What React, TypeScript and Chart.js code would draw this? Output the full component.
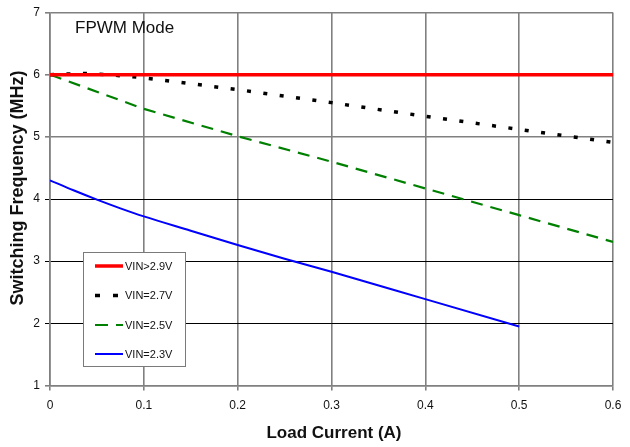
import React, { useEffect, useRef } from "react";
import { Chart, registerables } from "chart.js";

Chart.register(...registerables);

const FONT = "'Liberation Sans', Arial, Helvetica, sans-serif";

// Axis ranges / ticks
const xMin = 0;
const xMax = 0.6;
const xStep = 0.1;
const yMin = 1;
const yMax = 7;
const yStep = 1;

const chartNote = "FPWM Mode";
const xTitle = "Load Current (A)";
const yTitle = "Switching Frequency (MHz)";

const seriesNames = ["VIN>2.9V", "VIN=2.7V", "VIN=2.5V", "VIN=2.3V"];

// VIN > 2.9V
const x29 = [0, 0.6];
const y29 = [6.0, 6.0];
// VIN = 2.7V
const x27 = [0, 0.04, 0.07, 0.1, 0.2, 0.3, 0.4, 0.5, 0.6];
const y27 = [6.0, 6.02, 5.99, 5.95, 5.76, 5.55, 5.33, 5.12, 4.91];
// VIN = 2.5V
const x25 = [0, 0.1, 0.2, 0.3, 0.4, 0.5, 0.6];
const y25 = [6.0, 5.45, 5.01, 4.6, 4.17, 3.74, 3.31];
// VIN = 2.3V
const x23 = [0, 0.025, 0.05, 0.075, 0.1, 0.15, 0.2, 0.25, 0.3, 0.4, 0.5];
const y23 = [4.3, 4.14, 3.99, 3.85, 3.72, 3.49, 3.26, 3.04, 2.83, 2.39, 1.95];

const toPts = (xs: number[], ys: number[]) => xs.map((x, i) => ({ x, y: ys[i] }));

const legendPlugin = {
  id: "boxLegend",
  afterDatasetsDraw(chart: any) {
    const ctx = chart.ctx as CanvasRenderingContext2D;
    const bx = 83.5, by = 252.5, bw = 102, bh = 114;
    ctx.save();
    ctx.fillStyle = "#ffffff";
    ctx.fillRect(bx, by, bw, bh);
    ctx.strokeStyle = "#7a7a7a";
    ctx.lineWidth = 1;
    ctx.strokeRect(bx, by, bw, bh);
    const rowY = [266, 295.5, 325, 354];
    chart.data.datasets.forEach((ds: any, i: number) => {
      const y = rowY[i];
      ctx.beginPath();
      ctx.strokeStyle = ds.borderColor;
      ctx.lineWidth = ds.borderWidth;
      ctx.setLineDash(ds.legendDash || []);
      ctx.lineCap = "butt";
      ctx.moveTo(95, y);
      ctx.lineTo(123, y);
      ctx.stroke();
      ctx.setLineDash([]);
      ctx.fillStyle = "#111";
      ctx.font = `11px ${FONT}`;
      ctx.textAlign = "left";
      ctx.textBaseline = "middle";
      ctx.fillText(ds.label, 125, y + 0.5);
    });
    ctx.fillStyle = "#111";
    ctx.font = `17px ${FONT}`;
    ctx.textAlign = "left";
    ctx.textBaseline = "middle";
    ctx.fillText(chartNote, 75, 28);

    // axis titles
    ctx.font = `bold 17px ${FONT}`;
    ctx.textAlign = "center";
    ctx.textBaseline = "middle";
    ctx.fillText(xTitle, 334, 433.5);
    ctx.translate(18.5, 188);
    ctx.rotate(-Math.PI / 2);
    ctx.font = `bold 18px ${FONT}`;
    ctx.fillText(yTitle, 0, 0);
    ctx.restore();
  },
};

const gridColor = (c: any) => {
  const v = c.tick ? c.tick.value : 0;
  return v === 2 || v === 3 || v === 4 ? "#000000" : "#808080";
};
const gridWidth = (c: any) => {
  const v = c.tick ? c.tick.value : 0;
  return v === 2 || v === 3 || v === 4 ? 1 : 1.6;
};

export default function App() {
  const ref = useRef<HTMLCanvasElement>(null);
  useEffect(() => {
    if (!ref.current) return;
    const chart = new Chart(ref.current, {
      type: "line",
      data: {
        datasets: [
          {
            label: seriesNames[0],
            data: toPts(x29, y29),
            borderColor: "#ff0000",
            borderWidth: 3.5,
            pointRadius: 0,
            legendDash: [],
          } as any,
          {
            label: seriesNames[1],
            data: toPts(x27, y27),
            borderColor: "#000000",
            borderWidth: 3.5,
            borderDash: [4, 12.5],
            pointRadius: 0,
            legendDash: [5, 13],
          } as any,
          {
            label: seriesNames[2],
            data: toPts(x25, y25),
            borderColor: "#008000",
            borderWidth: 2.2,
            borderDash: [12, 8],
            pointRadius: 0,
            legendDash: [13, 8],
          } as any,
          {
            label: seriesNames[3],
            data: toPts(x23, y23),
            borderColor: "#0000ff",
            borderWidth: 2,
            cubicInterpolationMode: "monotone",
            pointRadius: 0,
            legendDash: [],
          } as any,
        ],
      },
      options: {
        responsive: false,
        animation: false,
        devicePixelRatio: 1,
        layout: { padding: { top: 12.5, right: 17, left: 0, bottom: 0 } },
        plugins: { legend: { display: false }, tooltip: { enabled: false } },
        scales: {
          x: {
            type: "linear",
            min: xMin,
            max: xMax,
            ticks: {
              stepSize: xStep,
              padding: 7.5,
              color: "#111",
              font: { family: FONT, size: 12 },
              callback: (v: any) => String(Number(Number(v).toFixed(1))),
              maxRotation: 0,
            },
            grid: { color: "#808080", lineWidth: 1.6, tickLength: 5 },
            border: { color: "#808080", width: 1.6 },
            title: { display: false },
            afterFit: (s: any) => {
              s.height = 61.5;
            },
          },
          y: {
            type: "linear",
            min: yMin,
            max: yMax,
            ticks: {
              stepSize: yStep,
              padding: 5,
              color: "#111",
              font: { family: FONT, size: 12 },
            },
            grid: { color: gridColor, lineWidth: gridWidth, tickLength: 5 },
            border: { color: "#808080", width: 1.6 },
            title: { display: false },
            afterFit: (s: any) => {
              s.width = 50;
            },
          },
        },
      } as any,
      plugins: [legendPlugin],
    });
    return () => chart.destroy();
  }, []);
  return (
    <div style={{ position: "absolute", left: 0, top: 0, width: 630, height: 447, background: "#fff" }}>
      <canvas ref={ref} width={630} height={447} style={{ display: "block" }} />
    </div>
  );
}
